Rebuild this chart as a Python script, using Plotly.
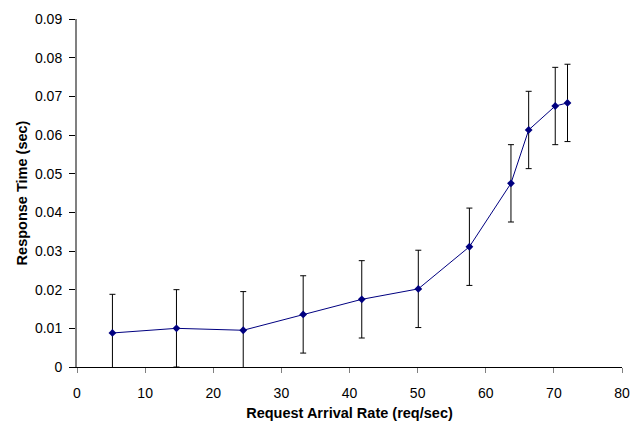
import plotly.graph_objects as go

arrival_rate = [5.2, 14.6, 24.4, 33.2, 41.8, 50.1, 57.6, 63.7, 66.3, 70.2, 72.0]
response_time = [0.0088, 0.0100, 0.0095, 0.0136, 0.0175, 0.0202, 0.0311, 0.0475, 0.0613, 0.0675, 0.0683]
error = [0.01] * len(arrival_rate)

y_ticks = [0, 0.01, 0.02, 0.03, 0.04, 0.05, 0.06, 0.07, 0.08, 0.09]
y_labels = ["0", "0.01", "0.02", "0.03", "0.04", "0.05", "0.06", "0.07", "0.08", "0.09"]
x_ticks = [0, 10, 20, 30, 40, 50, 60, 70, 80]

fig = go.Figure()
fig.add_trace(go.Scatter(
    x=arrival_rate, y=response_time, mode="lines+markers",
    line=dict(color="#000080", width=1),
    marker=dict(symbol="diamond", size=6, color="#000080"),
    error_y=dict(type="data", array=error, visible=True, color="#000000", thickness=1, width=3),
    showlegend=False,
))

tick_font = dict(family="Arial, Liberation Sans, sans-serif", size=14, color="#000000")
title_font = dict(family="Arial, Liberation Sans, sans-serif", size=14.5, color="#000000")
fig.update_layout(
    width=639, height=421,
    margin=dict(l=77, r=17, t=19, b=54),
    paper_bgcolor="white", plot_bgcolor="white",
    font=tick_font,
    xaxis=dict(
        range=[0, 80], tickvals=x_ticks, showgrid=False, zeroline=False,
        showline=True, linecolor="#000000", linewidth=1,
        ticks="outside", ticklen=5, tickcolor="#808080",
        tickfont=tick_font, ticklabeloverflow="allow", ticklabelstandoff=8,
        automargin=False,
        title=dict(text="<b>Request Arrival Rate (req/sec)</b>", standoff=10, font=title_font),
    ),
    yaxis=dict(
        range=[0, 0.09], tickvals=y_ticks, ticktext=y_labels, showgrid=False, zeroline=False,
        showline=True, linecolor="#808080", linewidth=2,
        ticks="outside", ticklen=6, tickcolor="#000000",
        tickfont=tick_font, ticklabelstandoff=4,
        automargin=False,
        title=dict(text="<b>Response Time (sec)</b>", standoff=4, font=title_font),
    ),
)

fig.write_html(
    "out.html",
    config={"displayModeBar": False},
    post_script="document.body.style.margin='0';document.body.style.overflow='hidden';",
)
